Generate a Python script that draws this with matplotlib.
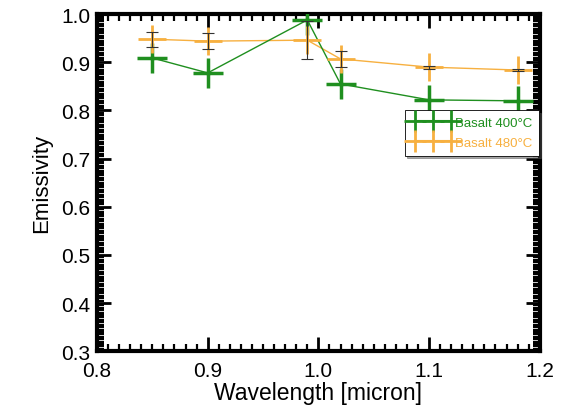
import numpy as np
import matplotlib
matplotlib.use('Agg')
import matplotlib.pyplot as plt
from matplotlib.ticker import MultipleLocator, FormatStrFormatter

plt.rcParams['font.family'] = ['Liberation Sans', 'DejaVu Sans']

# ----------------------------------------------------------------------
#   Data
# ----------------------------------------------------------------------

wl_400 = [0.85, 0.90, 0.99, 1.02, 1.10, 1.18]
em_400 = [0.909, 0.878, 0.988, 0.855, 0.822, 0.820]

wl_480 = [0.85, 0.90, 0.99, 1.02, 1.10, 1.18]
em_480 = [0.948, 0.944, 0.946, 0.907, 0.890, 0.884]
err_480 = [0.016, 0.016, 0.040, 0.017, 0.003, 0.003]

green = '#1f8f1f'
orange = '#f7b040'

# ----------------------------------------------------------------------
#   Plot
# ----------------------------------------------------------------------

fig = plt.figure(figsize=(5.64, 4.10), dpi=100)
ax = fig.add_axes([0.172, 0.141, 0.785, 0.822])

ax.plot(wl_400, em_400, '-', color=green, lw=1.0, zorder=3)
ax.plot(wl_400, em_400, '+', color=green, ms=22, mew=2.5, zorder=4)

ax.errorbar(wl_480, em_480, yerr=err_480, fmt='none', ecolor='#333333',
            elinewidth=0.8, capsize=4, capthick=0.8, zorder=5)
ax.plot(wl_480, em_480, '-', color=orange, lw=1.0, zorder=2)
ax.plot(wl_480, em_480, '+', color=orange, ms=20, mew=2.0, zorder=4)

# legend proxies
ax.plot([np.nan], [np.nan], '-+', color=green, ms=16, mew=2.0, lw=1.5,
        label='Basalt 400\u00b0C')
ax.plot([np.nan], [np.nan], '-+', color=orange, ms=16, mew=2.0, lw=1.5,
        label='Basalt 480\u00b0C')

lg = ax.legend(loc='upper left', bbox_to_anchor=(0.68, 0.735), numpoints=3,
               handlelength=3.3, handletextpad=0.0, borderpad=0.5,
               labelspacing=0.6, fontsize=9.5, fancybox=False, shadow=True,
               framealpha=1.0, edgecolor='black')
lg.get_frame().set_linewidth(0.6)
lg.get_texts()[0].set_color(green)
lg.get_texts()[1].set_color(orange)

ax.set_xlim(0.8, 1.2)
ax.set_ylim(0.3, 1.0)
ax.xaxis.set_major_locator(MultipleLocator(0.1))
ax.xaxis.set_minor_locator(MultipleLocator(0.01))
ax.yaxis.set_major_locator(MultipleLocator(0.1))
ax.yaxis.set_minor_locator(MultipleLocator(0.005))
ax.xaxis.set_major_formatter(FormatStrFormatter('%.1f'))
ax.yaxis.set_major_formatter(FormatStrFormatter('%.1f'))

ax.tick_params(which='both', direction='in', top=True, right=True,
               labelsize=15, colors='black')
ax.tick_params(axis='x', which='major', pad=7)
ax.tick_params(axis='y', which='major', pad=5)
ax.tick_params(which='major', length=10, width=2.0)
ax.tick_params(which='minor', length=5, width=1.6)
for sp in ax.spines.values():
    sp.set_linewidth(3.0)

ax.set_xlabel('Wavelength [micron]', fontsize=16.5, labelpad=1)
ax.set_ylabel('Emissivity', fontsize=16, labelpad=6)

plt.savefig('out.png', dpi=100)
plt.close()
